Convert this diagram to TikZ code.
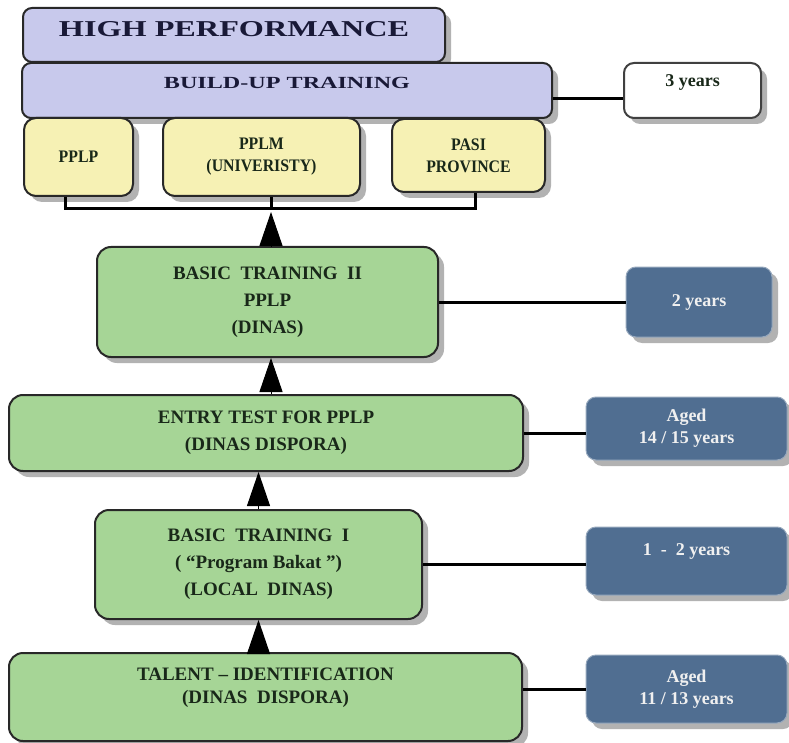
\documentclass[tikz,border=0pt]{standalone}
\usepackage{fontspec}
\setmainfont{Liberation Serif}
\newfontfamily\widefont{Liberation Serif}[FakeStretch=1.42]
\newfontfamily\narrowfont{Liberation Serif}[FakeStretch=0.9]
\usetikzlibrary{arrows.meta,shadows}
\definecolor{lavfill}{RGB}{200,201,236}
\definecolor{yelfill}{RGB}{246,241,180}
\definecolor{grnfill}{RGB}{166,213,150}
\definecolor{bluefill}{RGB}{80,110,145}
\definecolor{boxline}{RGB}{40,40,40}
\definecolor{navytext}{RGB}{25,25,55}
\definecolor{darktext}{RGB}{25,40,25}
\tikzset{
  box/.style={draw=boxline, line width=2pt, rounded corners=12pt, align=center, inner sep=0pt,
    drop shadow={shadow xshift=6pt, shadow yshift=-6pt, opacity=1, fill=black!30}},
  lavbox/.style={box, fill=lavfill, rounded corners=9pt},
  yelbox/.style={box, fill=yelfill, text=darktext, font=\narrowfont\bfseries\fontsize{17.6}{22}\selectfont},
  grnbox/.style={box, fill=grnfill, rounded corners=14pt, text=darktext, font=\bfseries\fontsize{19}{27}\selectfont},
  bluebox/.style={box, fill=bluefill, draw=bluefill!60!white, line width=1pt, rounded corners=10pt,
    text=white!94!black, font=\bfseries\fontsize{18}{22}\selectfont},
  whitebox/.style={box, fill=white, draw=black!75, rounded corners=10pt},
  lavtext/.style={text=navytext, font=\widefont\bfseries\fontsize{17}{20}\selectfont},
  link/.style={line width=3pt},
  tri/.style={line width=1pt, -{Triangle[width=23pt,length=34pt]}}
}
\begin{document}
\begin{tikzpicture}[x=1pt,y=-1pt]
  \path[fill=white] (0,0) rectangle (789,743);
  \useasboundingbox (0,0) rectangle (789,743);
  % 顶部两层
  \node[lavbox, minimum width=422, minimum height=54] (high) at (234,35) {};
  \node[lavtext, font=\widefont\bfseries\fontsize{22.7}{27}\selectfont] (hightext) at ([yshift=5.5pt]high.center) {HIGH PERFORMANCE};
  \node[lavbox, minimum width=530, minimum height=55] (build) at (287,90.5) {};
  \node[lavtext] (buildtext) at ([yshift=7.5pt]build.center) {BUILD-UP TRAINING};
  \node[whitebox, minimum width=137, minimum height=55] (three) at (692.5,90.5) {};
  \node[font=\bfseries\fontsize{18}{22}\selectfont, text=darktext] (threetext) at ([yshift=8.5pt]three.center) {3 years};
  % 三个黄色方框
  \node[yelbox, minimum width=109, minimum height=78] (pplp) at (78.5,157) {PPLP};
  \node[yelbox, minimum width=197, minimum height=78] (pplm) at (261.5,157) {PPLM\\(UNIVERISTY)};
  \node[yelbox, minimum width=153, minimum height=73] (pasi) at (468.5,155.5) {PASI\\PROVINCE};
  % 绿色方框
  \node[grnbox, minimum width=341, minimum height=110] (bt2) at (267.5,302) {BASIC~ TRAINING~ II\\PPLP\\(DINAS)};
  \node[grnbox, minimum width=514, minimum height=76] (entry) at (266,433) {ENTRY TEST FOR PPLP\\(DINAS DISPORA)};
  \node[grnbox, minimum width=327, minimum height=109] (bt1) at (258.5,564.5) {BASIC~ TRAINING~ I\\( “Program Bakat ”)\\(LOCAL~ DINAS)};
  \node[grnbox, minimum width=513, minimum height=88] (talent) at (265.5,697) {};
  \node[text=darktext, font=\bfseries\fontsize{19}{23}\selectfont, align=center] (talenttext) at ([yshift=9pt]talent.center) {TALENT -- IDENTIFICATION\\(DINAS~ DISPORA)};
  % 右侧蓝色方框
  \node[bluebox, minimum width=146, minimum height=70] (two) at (699,302) {2 years};
  \node[bluebox, minimum width=201, minimum height=63] (aged14) at (686.5,428.5) {Aged\\14 / 15 years};
  \node[bluebox, minimum width=201, minimum height=68] (one) at (686.5,561) {};
  \node[text=white!94!black, font=\bfseries\fontsize{18}{22}\selectfont] (onetext) at ([yshift=10pt]one.center) {1~ -~ 2 years};
  \node[bluebox, minimum width=201, minimum height=68] (aged11) at (686.5,689) {Aged\\11 / 13 years};
  % 括号连线
  \coordinate (join) at (271,209);
  \draw[link] ([xshift=-13pt]pplp.south) |- (join) -| ([xshift=7pt]pasi.south);
  \draw[link] (pplm.south -| join) -- (join);
  % 横向连线
  \draw[link] ([yshift=-8.5pt]build.east) -- ([yshift=-8.5pt]build.east -| three.west);
  \draw[link] (bt2.east) -- (two.west);
  \draw[link] (entry.east) -- (entry.east -| aged14.west);
  \draw[link] (bt1.east) -- (bt1.east -| one.west);
  \draw[link] (aged11.west -| talent.east) -- (aged11.west);
  % 向上的三角箭头
  \draw[tri] (bt2.north -| join) -- ([yshift=-3pt]join);
  \draw[tri] (entry.north -| join) -- (bt2.south -| join);
  \foreach \lo/\hi in {bt1/entry, talent/bt1}
    \draw[tri] (\lo.north -| bt1.north) -- (\hi.south -| bt1.north);
\end{tikzpicture}
\end{document}
